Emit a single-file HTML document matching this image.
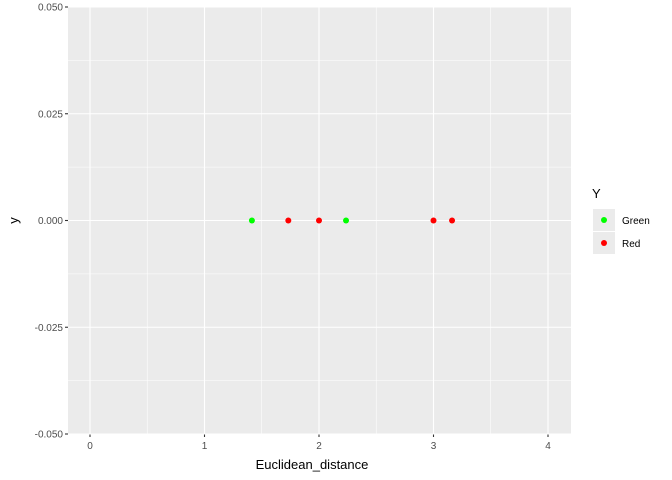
<!DOCTYPE html>
<html><head><meta charset="utf-8"><style>body{margin:0;background:#fff}svg{display:block;font-family:"Liberation Sans",sans-serif}</style></head>
<body>
<svg id="chart" width="672" height="480"></svg>
<script>
const xValues=[1.414,1.732,2,2.236,3,3.162];
const yValues=[0,0,0,0,0,0];
const groups=["Green","Red","Red","Green","Red","Red"];
const xTicks=[0,1,2,3,4];
const yTicks=[0.05,0.025,0,-0.025,-0.05];
const yTickLabels=["0.050","0.025","0.000","-0.025","-0.050"];
const legendLabels=["Green","Red"];
const colors={Green:"#00ff00",Red:"#ff0000"};
const NS="http://www.w3.org/2000/svg";
const svg=document.getElementById('chart');
const L=68,R=571,T=7,B=434;
const xs=v=>90+v*114.5;
const ys=v=>220.5-v*(213.5/0.05);
function mk(tag,attrs,parent){const e=document.createElementNS(NS,tag);for(const k in attrs)e.setAttribute(k,attrs[k]);(parent||svg).appendChild(e);return e;}
const panel=mk('rect',{x:L,y:T,width:R-L,height:B-T,fill:'#ebebeb'});


for(let i=0;i<xTicks.length-1;i++){const v=(xTicks[i]+xTicks[i+1])/2;mk('line',{x1:xs(v),x2:xs(v),y1:T,y2:B,stroke:'#fff','stroke-width':0.55});}
for(let i=0;i<yTicks.length-1;i++){const v=(yTicks[i]+yTicks[i+1])/2;mk('line',{x1:L,x2:R,y1:ys(v),y2:ys(v),stroke:'#fff','stroke-width':0.55});}
xTicks.forEach(v=>{mk('line',{x1:xs(v),x2:xs(v),y1:T,y2:B,stroke:'#fff','stroke-width':1.1});
 mk('line',{x1:xs(v),x2:xs(v),y1:B,y2:B+3,stroke:'#333','stroke-width':1.1});
 const t=mk('text',{x:xs(v),y:B+15,'text-anchor':'middle','font-size':10,fill:'#4d4d4d'});t.textContent=v;
 
 });
yTicks.forEach((v,i)=>{mk('line',{x1:L,x2:R,y1:ys(v),y2:ys(v),stroke:'#fff','stroke-width':1.1});
 mk('line',{x1:L-3,x2:L,y1:ys(v),y2:ys(v),stroke:'#333','stroke-width':1.1});
 const t=mk('text',{x:L-5,y:ys(v)+3.5,'text-anchor':'end','font-size':10,fill:'#4d4d4d'});t.textContent=yTickLabels[i];
 
 });
xValues.forEach((v,i)=>{const c=mk('circle',{cx:xs(v),cy:ys(yValues[i]),r:3,fill:colors[groups[i]]});
 
 });
const xt=mk('text',{x:312,y:469,'text-anchor':'middle','font-size':13,fill:'#000'});xt.textContent='Euclidean_distance';


const yt=mk('text',{x:18,y:(T+B)/2,'text-anchor':'middle','font-size':13,fill:'#000',transform:`rotate(-90 18 ${(T+B)/2})`});yt.textContent='y';


const lt=mk('text',{x:592,y:198,'font-size':13,fill:'#000'});lt.textContent='Y';


legendLabels.forEach((g,i)=>{const y0=209+i*23;
 mk('rect',{x:593,y:y0,width:22,height:22,fill:'#ebebeb'});
 const c=mk('circle',{cx:604,cy:y0+11,r:3,fill:colors[g]});
 
 
 const t=mk('text',{x:622,y:y0+15,'font-size':10,fill:'#000'});t.textContent=g;
 
 });
</script>
</body></html>
